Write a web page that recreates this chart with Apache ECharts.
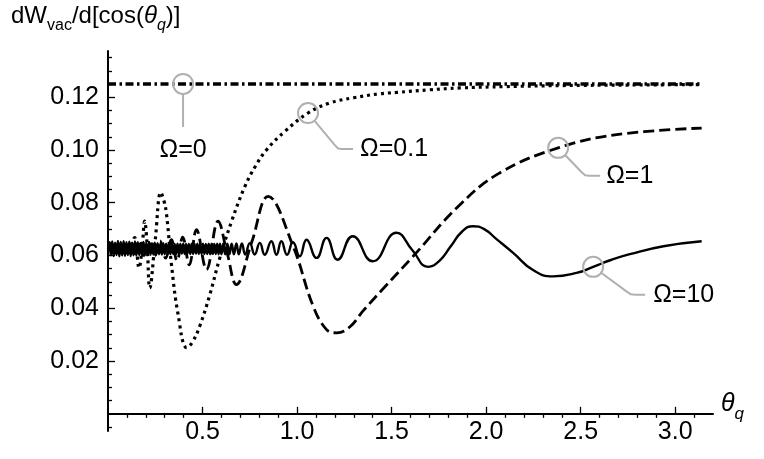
<!DOCTYPE html>
<html>
<head>
<meta charset="utf-8">
<title>dW/d[cos(theta)]</title>
<script src="https://cdn.jsdelivr.net/npm/echarts@6/dist/echarts.min.js"></script>
<style>
html, body { margin: 0; padding: 0; background: #fff; }
#chart { width: 764px; height: 459px; }
</style>
</head>
<body>
<div id="chart"></div>
<script>
"use strict";

// ticks
var xMajorTicks = [0.5, 1.0, 1.5, 2.0, 2.5, 3.0];
var xMinorTicks = [0.1, 0.2, 0.3, 0.4, 0.6, 0.7, 0.8, 0.9, 1.1, 1.2, 1.3, 1.4, 1.6, 1.7, 1.8, 1.9,
    2.1, 2.2, 2.3, 2.4, 2.6, 2.7, 2.8, 2.9, 3.1];
var yMajorTicks = [0.02, 0.04, 0.06, 0.08, 0.10, 0.12];
var yMinorTicks = [-0.005, 0.005, 0.01, 0.015, 0.025, 0.03, 0.035, 0.045, 0.05, 0.055, 0.065, 0.07,
    0.075, 0.085, 0.09, 0.095, 0.105, 0.11, 0.115, 0.125, 0.13, 0.135];

// Omega = 0 (dot-dashed)
var theta0 = [0, 3.14];
var w0 = [0.125, 0.125];

// Omega = 0.1 (dotted)
var theta01 = [0, 0.02, 0.04, 0.06, 0.08, 0.10, 0.115, 0.128, 0.141, 0.152,
    0.164, 0.18, 0.194, 0.207, 0.221, 0.25, 0.279, 0.295, 0.309, 0.335,
    0.37, 0.416, 0.445, 0.485, 0.538, 0.591, 0.654, 0.723, 0.781, 0.838,
    0.935, 1.058, 1.173, 1.30, 1.438, 1.526, 1.70, 1.861, 2.1, 2.4,
    2.75, 3.14];
var w01 = [0.0625, 0.0633, 0.0618, 0.0636, 0.0614, 0.0641, 0.0608, 0.0650, 0.0668, 0.0615,
    0.0553, 0.0625, 0.0730, 0.0640, 0.0477, 0.0660, 0.0839, 0.0810, 0.0760, 0.0570,
    0.0380, 0.0251, 0.0270, 0.0332, 0.0450, 0.0590, 0.0730, 0.0860, 0.0940, 0.1000,
    0.1070, 0.1140, 0.1178, 0.1198, 0.1213, 0.1218, 0.1228, 0.1235, 0.1240, 0.1244,
    0.1246, 0.1248];

// Omega = 1 (dashed)
var theta1 = [0, 0.04, 0.065, 0.09, 0.115, 0.14, 0.165, 0.19, 0.215, 0.245,
    0.275, 0.305, 0.335, 0.365, 0.395, 0.43, 0.468, 0.521, 0.582, 0.63,
    0.679, 0.76, 0.847, 0.979, 1.085, 1.156, 1.21, 1.28, 1.349, 1.45,
    1.614, 1.852, 2.072, 2.381, 2.69, 3.14];
var w1 = [0.0625, 0.0617, 0.0635, 0.0610, 0.0640, 0.0607, 0.0643, 0.0600, 0.0650, 0.0598,
    0.0655, 0.0590, 0.0660, 0.0580, 0.0670, 0.0565, 0.0698, 0.0547, 0.0730, 0.0610,
    0.0490, 0.0650, 0.0824, 0.0635, 0.0408, 0.0319, 0.0307, 0.0330, 0.0390, 0.0470,
    0.0597, 0.0786, 0.0913, 0.1008, 0.1058, 0.1083];

// Omega = 10 (solid)
var theta10 = [0, 0.0075, 0.015, 0.0225, 0.03, 0.0375, 0.045, 0.0525, 0.06, 0.0675,
    0.075, 0.0825, 0.09, 0.0975, 0.105, 0.1125, 0.12, 0.1275, 0.135, 0.1425,
    0.15, 0.1575, 0.165, 0.1725, 0.18, 0.1875, 0.195, 0.2025, 0.21, 0.2175,
    0.225, 0.2325, 0.24, 0.2475, 0.255, 0.2625, 0.27, 0.2775, 0.285, 0.2925,
    0.30, 0.3075, 0.315, 0.3225, 0.33, 0.3375, 0.345, 0.3525, 0.36, 0.3675,
    0.375, 0.3825, 0.39, 0.3975, 0.405, 0.4125, 0.42, 0.4275, 0.435, 0.4425,
    0.45, 0.4575, 0.465, 0.4725, 0.48, 0.4875, 0.495, 0.5025, 0.51, 0.5175,
    0.525, 0.5325, 0.54, 0.5475, 0.555, 0.5625, 0.57, 0.5775, 0.585, 0.5925,
    0.60, 0.61, 0.62, 0.631, 0.642, 0.654, 0.666, 0.679, 0.692, 0.708,
    0.726, 0.75, 0.776, 0.803, 0.829, 0.864, 0.891, 0.917, 0.947, 0.978,
    1.014, 1.05, 1.103, 1.156, 1.214, 1.294, 1.40, 1.526, 1.61, 1.693,
    1.753, 1.812, 1.872, 1.931, 1.99, 2.055, 2.143, 2.248, 2.354, 2.478,
    2.566, 2.66, 2.76, 2.938, 3.14];
var w10 = [0.0625, 0.0650, 0.0601, 0.0653, 0.0598, 0.0649, 0.0602, 0.0655, 0.0597, 0.0651,
    0.0600, 0.0654, 0.0599, 0.0650, 0.0602, 0.0652, 0.0598, 0.0649, 0.0601, 0.0653,
    0.0600, 0.0650, 0.0602, 0.0648, 0.0601, 0.0651, 0.0603, 0.0648, 0.0602, 0.0650,
    0.0603, 0.0647, 0.0604, 0.0649, 0.0603, 0.0647, 0.0605, 0.0646, 0.0604, 0.0647,
    0.0605, 0.0645, 0.0606, 0.0646, 0.0605, 0.0645, 0.0606, 0.0644, 0.0606, 0.0645,
    0.0606, 0.0644, 0.0607, 0.0645, 0.0606, 0.0644, 0.0607, 0.0644, 0.0606, 0.0645,
    0.0606, 0.0644, 0.0607, 0.0645, 0.0606, 0.0644, 0.0606, 0.0645, 0.0606, 0.0644,
    0.0606, 0.0645, 0.0605, 0.0645, 0.0606, 0.0644, 0.0606, 0.0645, 0.0605, 0.0645,
    0.0605, 0.0645, 0.0605, 0.0645, 0.0605, 0.0645, 0.0605, 0.0646, 0.0605, 0.0646,
    0.0604, 0.0647, 0.0604, 0.0648, 0.0603, 0.0654, 0.0603, 0.0654, 0.0603, 0.0650,
    0.0597, 0.0660, 0.0591, 0.0667, 0.0584, 0.0673, 0.0578, 0.0686, 0.0620, 0.0557,
    0.0580, 0.0634, 0.0690, 0.0711, 0.0700, 0.0662, 0.0610, 0.0545, 0.0521, 0.0534,
    0.0557, 0.0583, 0.0605, 0.0635, 0.0654];

// callouts: label and the point on the curve it marks
var calloutLabels = ['Ω=0', 'Ω=0.1', 'Ω=1', 'Ω=10'];
var calloutTheta = [0.397, 1.058, 2.381, 2.566];
var calloutValue = [0.125, 0.114, 0.1008, 0.0557];

var FONT = '"Liberation Sans", Arial, Helvetica, sans-serif';
var INK = '#000';
var GREY = '#b0b0b0';

function pairs(xs, ys) {
    var out = [];
    for (var i = 0; i < xs.length; i++) {
        out.push([xs[i], ys[i]]);
    }
    return out;
}

function curve(name, xs, ys, type, width, smooth) {
    return {
        name: name,
        type: 'line',
        data: pairs(xs, ys),
        showSymbol: false,
        symbol: 'none',
        smooth: smooth,
        clip: true,
        silent: true,
        lineStyle: { color: INK, width: width, type: type, cap: 'butt' }
    };
}

var dom = document.getElementById('chart');
var myChart = echarts.init(dom, null, { renderer: 'canvas' });

var tickStyle = { color: INK, width: 1.3 };
var main = { fontSize: 25, fontFamily: FONT, fontWeight: 'normal', color: INK, lineHeight: 30, verticalAlign: 'top' };
var sub = { fontSize: 17, fontFamily: FONT, fontWeight: 'normal', color: INK, lineHeight: 17, padding: [14, 0, 0, 0], verticalAlign: 'top' };
var tmain = Object.assign({}, main, { fontSize: 24 });
var tsub = Object.assign({}, sub, { fontSize: 16, lineHeight: 16 });

var option = {
    animation: false,
    backgroundColor: '#fff',
    title: {
        text: '{a|dW}{s|vac}{a|/d[cos(}{i|θ}{si|q}{a|)]}',
        left: 11,
        top: 4,
        padding: 0,
        textStyle: {
            fontWeight: 'normal',
            rich: {
                a: tmain,
                i: Object.assign({}, tmain, { fontStyle: 'italic' }),
                s: tsub,
                si: Object.assign({}, tsub, { fontStyle: 'italic' })
            }
        }
    },
    grid: { left: 108, right: 51, top: 51, bottom: 28, containLabel: false, outerBoundsMode: 'none' },
    xAxis: [{
        type: 'value',
        min: 0,
        max: 3.2,
        name: '{t|θ}{q|q}',
        nameLocation: 'end',
        nameGap: 8,
        nameTextStyle: {
            align: 'left',
            verticalAlign: 'middle',
            padding: [0, 0, 14, 0],
            rich: {
                t: Object.assign({}, main, { fontStyle: 'italic' }),
                q: Object.assign({}, sub, { fontStyle: 'italic' })
            }
        },
        axisLine: { show: true, onZero: true, onZeroAxisIndex: 0, lineStyle: { color: INK, width: 2 } },
        axisTick: { show: true, inside: true, length: 7, customValues: xMajorTicks, lineStyle: tickStyle },
        axisLabel: {
            show: true,
            customValues: xMajorTicks,
            margin: -11,
            fontSize: 25,
            fontFamily: FONT,
            color: INK,
            formatter: function (v) { return v.toFixed(1); }
        },
        splitLine: { show: false }
    }, {
        type: 'value',
        min: 0,
        max: 3.2,
        axisLine: { show: false, onZero: true, onZeroAxisIndex: 0 },
        axisTick: { show: true, inside: true, length: 4, customValues: xMinorTicks, lineStyle: tickStyle },
        axisLabel: { show: false },
        splitLine: { show: false }
    }],
    yAxis: [{
        type: 'value',
        position: 'left',
        min: -0.0065,
        max: 0.1375,
        axisLine: { show: true, onZero: false, lineStyle: { color: INK, width: 2 } },
        axisTick: { show: true, inside: true, length: 7, customValues: yMajorTicks, lineStyle: tickStyle },
        axisLabel: {
            show: true,
            customValues: yMajorTicks,
            margin: 9,
            fontSize: 25,
            fontFamily: FONT,
            color: INK,
            formatter: function (v) { return v.toFixed(2); }
        },
        splitLine: { show: false }
    }, {
        type: 'value',
        position: 'left',
        min: -0.0065,
        max: 0.1375,
        axisLine: { show: false, onZero: false },
        axisTick: { show: true, inside: true, length: 4, customValues: yMinorTicks, lineStyle: tickStyle },
        axisLabel: { show: false },
        splitLine: { show: false }
    }],
    series: [
        curve('Ω=0', theta0, w0, [8, 3.5, 2.5, 3.5], 3.5, false),
        curve('Ω=0.1', theta01, w01, [3, 4], 3.2, 0.4),
        curve('Ω=1', theta1, w1, [11, 5], 2.8, 0.4),
        curve('Ω=10', theta10, w10, 'solid', 2.4, 0.5)
    ]
};

myChart.setOption(option, true);

// leader geometry (pixels): diagonal to the elbow, then a short horizontal run
var leaderShape = [
    { dx: 0, dy: 43, run: 0, textDx: 0, textDy: 66, align: 'center' },
    { dx: 30, dy: 36, run: 15, textDx: 52, textDy: 36, align: 'left' },
    { dx: 27, dy: 28, run: 15, textDx: 48, textDy: 28, align: 'left' },
    { dx: 38, dy: 28, run: 14, textDx: 60, textDy: 28, align: 'left' }
];

function build_callouts() {
    var r = 10;
    var elements = [];
    for (var k = 0; k < calloutLabels.length; k++) {
        var c = myChart.convertToPixel({ seriesIndex: 0 }, [calloutTheta[k], calloutValue[k]]);
        var g = leaderShape[k];
        var len = Math.sqrt(g.dx * g.dx + g.dy * g.dy);
        var ux = g.dx / len, uy = g.dy / len;
        var start = [c[0] + r * ux, c[1] + r * uy];
        var elbow = [c[0] + g.dx, c[1] + g.dy];
        var pts;
        if (g.run > 0) {
            // small rounded corner at the elbow
            pts = [start,
                [elbow[0] - 5 * ux, elbow[1] - 5 * uy],
                [elbow[0] - 1.5 * ux + 1, elbow[1] - 0.5],
                [elbow[0] + 4, elbow[1]],
                [elbow[0] + g.run, elbow[1]]];
        } else {
            pts = [start, elbow];
        }
        elements.push({
            type: 'circle',
            z: 100,
            shape: { cx: c[0], cy: c[1], r: r },
            style: { fill: 'none', stroke: GREY, lineWidth: 2 }
        });
        elements.push({
            type: 'polyline',
            z: 100,
            shape: { points: pts },
            style: { fill: 'none', stroke: GREY, lineWidth: 2, lineJoin: 'round' }
        });
        elements.push({
            type: 'text',
            z: 100,
            x: c[0] + g.textDx,
            y: c[1] + g.textDy,
            style: {
                text: calloutLabels[k],
                font: '25px ' + FONT,
                fill: INK,
                align: g.align,
                verticalAlign: 'middle',
                textAlign: g.align,
                textVerticalAlign: 'middle'
            }
        });
    }
    myChart.setOption({ graphic: { elements: elements } });
}

build_callouts();
</script>
</body>
</html>
